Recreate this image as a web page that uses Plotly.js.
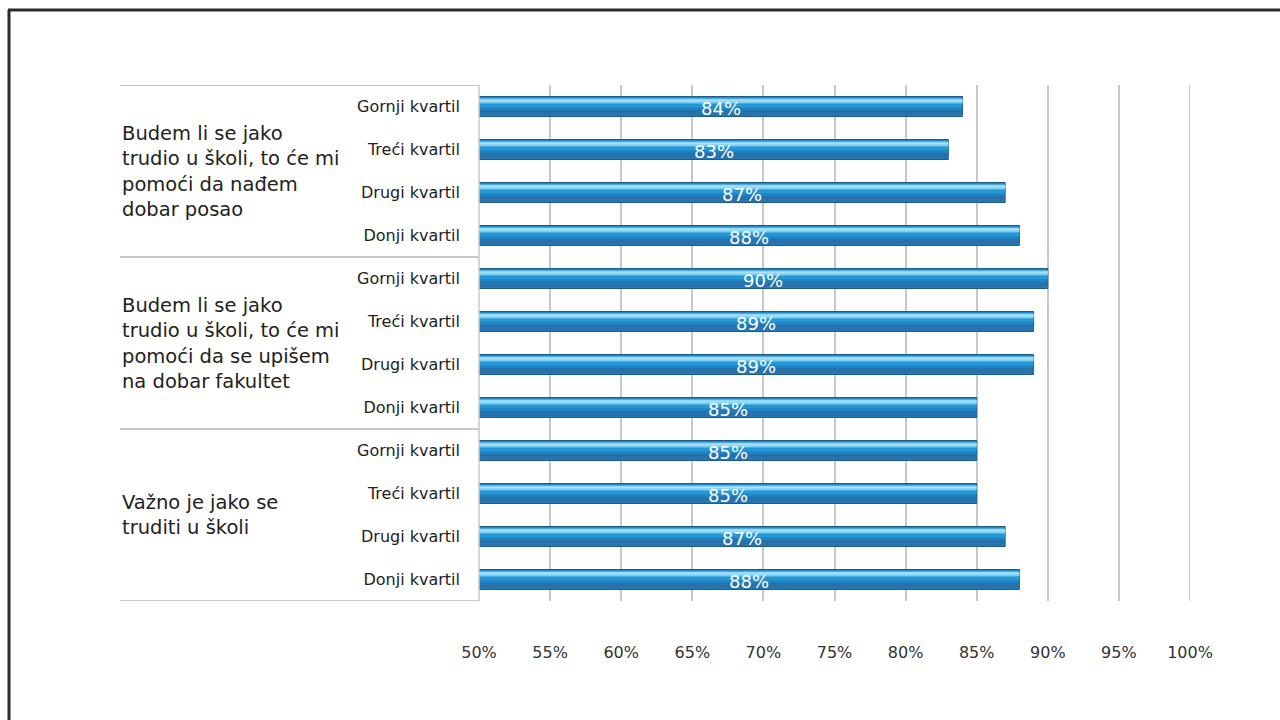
<!DOCTYPE html>
<html>
<head>
<meta charset="utf-8">
<script src="https://cdn.plot.ly/plotly-3.0.1.min.js"></script>
<style>
  html, body { margin: 0; padding: 0; background: #fff; }
  #chart { width: 1280px; height: 720px; }
</style>
</head>
<body>
<div id="chart"></div>
<script>
// ---- data ----
const quartiles = ["Gornji kvartil", "Treći kvartil", "Drugi kvartil", "Donji kvartil"];
const groups = [
  "Budem li se jako<br>trudio u školi, to će mi<br>pomoći da nađem<br>dobar posao",
  "Budem li se jako<br>trudio u školi, to će mi<br>pomoći da se upišem<br>na dobar fakultet",
  "Važno je jako se<br>truditi u školi"
];
const group1Values = [84, 83, 87, 88];
const group2Values = [90, 89, 89, 85];
const group3Values = [85, 85, 87, 88];
const xTicks = [50, 55, 60, 65, 70, 75, 80, 85, 90, 95, 100];
const xMin = 50, xMax = 100;

// ---- build ----
const values = group1Values.concat(group2Values, group3Values);
const rowIdx = values.map((_, i) => i);
const rowLabels = [].concat(quartiles, quartiles, quartiles);
const labels = values.map(v => v + "%");
const FONT = "DejaVu Sans, Liberation Sans, Arial, sans-serif";

function barLayer(width, offset, color, line) {
  return {
    type: "bar", orientation: "h", x: values, y: rowIdx,
    width: width, offset: offset,
    marker: { color: color, line: line || { width: 0 } },
    hoverinfo: "skip", showlegend: false
  };
}
const base = barLayer(0.465, -0.2326, "#1f88c9", { color: "#1d5a88", width: 1 });
const dark = barLayer(0.14, 0.07, "#2772ad");
const mid = barLayer(0.08, -0.07, "#2596d6");
const light = barLayer(0.116, -0.186, "#7bcdf1");
const peak = barLayer(0.047, -0.163, "#a6e1f8");

const gx = (120 - 479) / 711;
const shapes = [];
[-0.5, 3.5, 7.5, 11.5].forEach(yv => {
  shapes.push({ type: "line", xref: "paper", yref: "y", x0: gx, x1: 0, y0: yv, y1: yv,
    line: { color: "#c8c8c8", width: 2 } });
});
shapes.push({ type: "line", xref: "paper", yref: "paper", x0: 0, x1: 0, y0: 0, y1: 1,
  line: { color: "#c8c8c8", width: 1.5 } });
// last gridline at the range end
shapes.push({ type: "line", xref: "x", yref: "paper", x0: xMax, x1: xMax, y0: 0, y1: 1,
  layer: "below", line: { color: "#c8c8c8", width: 2 } });
// outer frame (top and left)
shapes.push({ type: "line", xref: "paper", yref: "paper",
  x0: (8 - 479) / 711, x1: (1285 - 479) / 711, y0: (601 - 10) / 516, y1: (601 - 10) / 516,
  line: { color: "#2b2b2b", width: 3 } });
shapes.push({ type: "line", xref: "paper", yref: "paper",
  x0: (9 - 479) / 711, x1: (9 - 479) / 711, y0: (601 - 10) / 516, y1: (601 - 730) / 516,
  line: { color: "#2b2b2b", width: 3 } });

const annotations = groups.map((g, i) => ({
  xref: "paper", yref: "y", x: gx, y: i * 4 + 1.5, xanchor: "left", yanchor: "middle",
  align: "left", text: g, showarrow: false,
  font: { family: FONT, size: 19.5, color: "#222" }
}));
values.forEach((v, i) => {
  annotations.push({
    xref: "x", yref: "y", x: (xMin + v) / 2, y: rowIdx[i], xanchor: "center", yanchor: "middle",
    text: labels[i], showarrow: false, yshift: -2,
    font: { family: FONT, size: 18, color: "#ffffff" }
  });
});

const layout = {
  width: 1280, height: 720,
  margin: { l: 479, r: 90, t: 85, b: 119 },
  paper_bgcolor: "#ffffff", plot_bgcolor: "#ffffff",
  barmode: "overlay",
  font: { family: FONT },
  xaxis: {
    range: [xMin, xMax], tickvals: xTicks, ticktext: xTicks.map(t => t + "%"),
    showgrid: true, gridcolor: "#c8c8c8", gridwidth: 2,
    zeroline: false, showline: false, ticks: "",
    ticklabelstandoff: 40,
    tickfont: { family: FONT, size: 16, color: "#333" },
    fixedrange: true
  },
  yaxis: {
    range: [11.5, -0.5], tickvals: rowIdx, ticktext: rowLabels,
    showgrid: false, zeroline: false, showline: false, ticks: "",
    ticklabelstandoff: 18,
    tickfont: { family: FONT, size: 16, color: "#222" },
    fixedrange: true
  },
  shapes: shapes,
  annotations: annotations,
  showlegend: false
};

Plotly.newPlot("chart", [base, dark, mid, light, peak], layout, { displayModeBar: false, staticPlot: true });
</script>
</body>
</html>
